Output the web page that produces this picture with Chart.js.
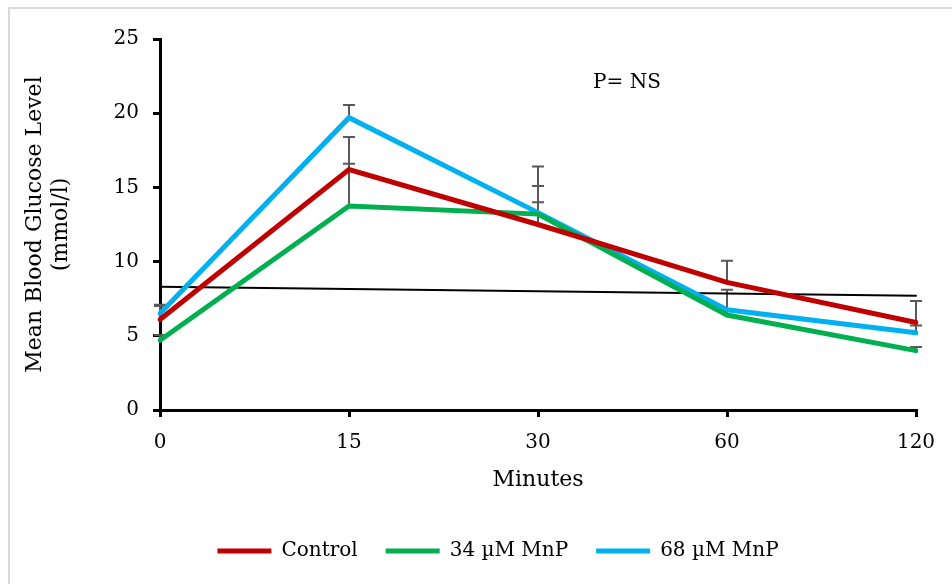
<!DOCTYPE html>
<html>
<head>
<meta charset="utf-8">
<script src="https://cdn.jsdelivr.net/npm/chart.js@4.4.1/dist/chart.umd.min.js"></script>
<style>
  html, body { margin: 0; padding: 0; background: #fff; }
  #wrap { position: relative; width: 952px; height: 584px; overflow: hidden; }
  #frame { position: absolute; left: 8px; top: 7px; width: 1000px; height: 700px; border: 2px solid #d9d9d9; box-sizing: border-box; }
  canvas { position: absolute; left: 0; top: 0; }
</style>
</head>
<body>
<div id="wrap">
  <div id="frame"></div>
  <canvas id="chart" width="952" height="584"></canvas>
</div>
<script>
// time points (minutes)
const minutes = ['0', '15', '30', '60', '120'];

// mean blood glucose (mmol/l)
const control = [6.1, 16.2, 12.5, 8.6, 5.9];
const mnp34 = [4.7, 13.75, 13.2, 6.4, 4.0];
const mnp68 = [6.5, 19.7, 13.3, 6.75, 5.2];

// upper error bars (SD)
const controlErr = [0.9, 2.2, 3.9, 1.45, 1.45];
const mnp34Err = [0.35, 2.85, 0.8, 0.3, 0.25];
const mnp68Err = [0.6, 0.85, 1.8, 1.35, 0.5];

// linear trend line, only its two ends
const trend = [8.3, null, null, null, 7.7];

const yTicks = [0, 5, 10, 15, 20, 25];

const serif = '"DejaVu Serif", "Liberation Serif", serif';

// draws the gray upper error bars under the lines
const errorBars = {
  id: 'errorBars',
  beforeDatasetsDraw(chart) {
    const ctx = chart.ctx;
    const xs = chart.scales.x, ys = chart.scales.y;
    const sets = [[control, controlErr], [mnp34, mnp34Err], [mnp68, mnp68Err]];
    ctx.save();
    ctx.strokeStyle = '#595959';
    ctx.lineWidth = 2;
    sets.forEach(([vals, errs]) => {
      vals.forEach((v, i) => {
        const x = xs.getPixelForValue(i);
        const y0 = ys.getPixelForValue(v);
        const y1 = ys.getPixelForValue(v + errs[i]);
        ctx.beginPath();
        ctx.moveTo(x, y0); ctx.lineTo(x, y1);
        ctx.moveTo(x - 6, y1); ctx.lineTo(x + 6, y1);
        ctx.stroke();
      });
    });
    ctx.restore();
  }
};

// "P= NS" note
const note = {
  id: 'note',
  afterDraw(chart) {
    const ctx = chart.ctx;
    const a = chart.chartArea;
    ctx.save();
    ctx.fillStyle = '#000';
    ctx.font = '20px ' + serif;
    ctx.textAlign = 'center';
    ctx.textBaseline = 'middle';
    ctx.fillText('P= NS', a.left + 467, a.top + 44);
    ctx.restore();
  }
};

new Chart(document.getElementById('chart'), {
  type: 'line',
  data: {
    labels: minutes,
    datasets: [
      { label: 'Control', data: control, borderColor: '#C00000', backgroundColor: '#C00000', borderWidth: 5 },
      { label: '34 µM MnP', data: mnp34, borderColor: '#00B050', backgroundColor: '#00B050', borderWidth: 5 },
      { label: '68 µM MnP', data: mnp68, borderColor: '#00B0F0', backgroundColor: '#00B0F0', borderWidth: 5 },
      { label: 'trend', data: trend, borderColor: '#000', borderWidth: 2, spanGaps: true }
    ]
  },
  options: {
    responsive: false,
    animation: false,
    layout: { padding: { left: 80, top: 39, right: 36, bottom: 13 } },
    elements: { point: { radius: 0 }, line: { tension: 0, borderCapStyle: 'round' } },
    plugins: {
      tooltip: { enabled: false },
      legend: {
        position: 'bottom',
        labels: {
          filter: item => item.text !== 'trend',
          font: { family: serif, size: 20 },
          color: '#000',
          usePointStyle: true,
          pointStyle: 'line',
          pointStyleWidth: 54,
          boxHeight: 5,
          padding: 28
        }
      }
    },
    scales: {
      x: {
        offset: false,
        grid: { drawOnChartArea: false, color: '#000', lineWidth: 3, tickLength: 7 },
        border: { color: '#000', width: 3 },
        ticks: { font: { family: serif, size: 20 }, color: '#000', padding: 14, maxRotation: 0 },
        title: { display: true, text: 'Minutes', font: { family: serif, size: 22 }, color: '#000', padding: { top: 0, bottom: 20 } },
        afterFit(scale) { scale.height = 103; }
      },
      y: {
        min: 0, max: 25,
        afterBuildTicks(scale) { scale.ticks = yTicks.map(v => ({ value: v })); },
        grid: { drawOnChartArea: false, color: '#000', lineWidth: 3, tickLength: 7 },
        border: { color: '#000', width: 3 },
        ticks: { font: { family: serif, size: 20 }, color: '#000', padding: 14 },
        title: { display: true, text: ['Mean Blood Glucose Level', '(mmol/l)'], font: { family: serif, size: 22 }, color: '#000', padding: { top: -58, bottom: 0 } },
        afterFit(scale) { scale.width = 80; }
      }
    }
  },
  plugins: [errorBars, note]
});
</script>
</body>
</html>
